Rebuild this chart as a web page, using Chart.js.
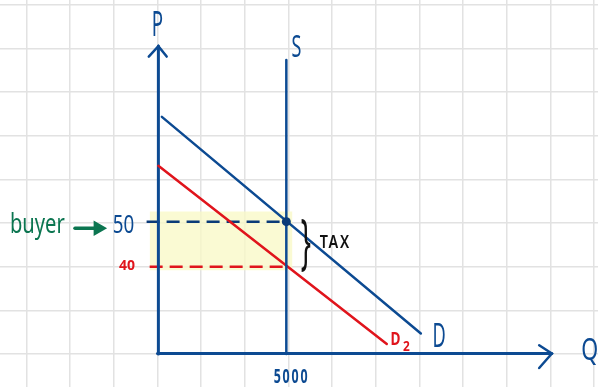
<!DOCTYPE html>
<html>
<head>
<meta charset="utf-8">
<script src="https://cdn.jsdelivr.net/npm/chart.js@4/dist/chart.umd.min.js"></script>
<style>
  html, body { margin: 0; padding: 0; background: #ffffff; overflow: hidden; }
  #wrap { width: 598px; height: 387px; }
</style>
</head>
<body>
<div id="wrap"><canvas id="taxChart" width="598" height="387"></canvas></div>
<script>
// values in grid cells (one square of the paper = 1)
const demandQ = [0.1, 6.03];
const demandP = [5.43, 0.47];
const demand2Q = [0.02, 5.25];
const demand2P = [4.31, 0.23];
const supplyQ = [2.95, 2.95];
const supplyP = [0, 6.73];
const priceLevels = [3.03, 2.0];
const priceLabels = ["50", "40"];
const quantityLevel = 2.95;
const quantityLabel = "5000";
const taxBand = [1.92, 3.26];

const blue = "#0c4a92";
const darkBlue = "#0a3b78";
const red = "#e0141c";
const green = "#0b7550";
const gridLine = "#e2e2e2";
const highlight = "rgba(249, 249, 200, 0.8)";

const toPts = (xs, ys) => xs.map((x, i) => ({ x, y: ys[i] }));

// hand-written notes, anchored in grid units
const notes = [
  { text: "P", x: 0, y: 7.28, color: blue, size: 34, sx: 0.55 },
  { text: "S", x: 3.18, y: 6.8, color: blue, size: 30, sx: 0.6 },
  { text: "D", x: 6.45, y: 0.15, color: blue, size: 33, sx: 0.55 },
  { text: "Q", x: 9.9, y: -0.13, color: blue, size: 31, sx: 0.7 },
  { text: "D", x: 5.45, y: 0.21, color: red, size: 17, sx: 0.8, weight: "bold" },
  { text: "2", x: 5.7, y: 0.06, color: red, size: 14, sx: 0.85, weight: "bold" },
  { text: priceLabels[0], x: -0.78, y: 2.77, color: blue, size: 25, sx: 0.75 },
  { text: priceLabels[1], x: -0.7, y: 1.93, color: red, size: 14, sx: 1, weight: "bold" },
  { text: "buyer", x: -3.38, y: 2.77, color: green, size: 28, sx: 0.72, align: "left" },
  { text: quantityLabel, x: 3.07, y: -0.67, color: blue, size: 20, sx: 0.62, weight: "bold", spacing: "3px" },
  { text: "TAX", x: 4.07, y: 2.42, color: "#111111", size: 18, sx: 0.8, weight: "600", spacing: "2px" },
  { text: "}", x: 3.4, y: 2.1, color: "#111111", size: 60, sx: 0.45 }
];

const notePlugin = {
  id: "notes",
  afterDatasetsDraw(chart) {
    const { ctx, scales } = chart;
    notes.forEach(n => {
      ctx.save();
      ctx.translate(scales.x.getPixelForValue(n.x), scales.y.getPixelForValue(n.y));
      ctx.scale(n.sx, 1);
      ctx.font = `${n.weight || "normal"} ${n.size}px "Noto Sans", sans-serif`;
      ctx.letterSpacing = n.spacing || "0px";
      ctx.fillStyle = n.color;
      ctx.textAlign = n.align || "center";
      ctx.textBaseline = "alphabetic";
      ctx.fillText(n.text, 0, 0);
      ctx.restore();
    });
  }
};

const line = (data, color, width, extra) => Object.assign({
  data, borderColor: color, borderWidth: width, showLine: true,
  pointRadius: 0, fill: false, tension: 0, borderCapStyle: "round"
}, extra || {});

new Chart(document.getElementById("taxChart"), {
  type: "scatter",
  data: {
    datasets: [
      line([{ x: quantityLevel, y: priceLevels[0] }], darkBlue, 0, { pointRadius: 4.5, pointBackgroundColor: darkBlue, showLine: false, order: 0 }),
      line(toPts(demandQ, demandP), blue, 2.5, { order: 1 }),
      line(toPts(demand2Q, demand2P), red, 2.5, { order: 2 }),
      line(toPts(supplyQ, supplyP), blue, 2.5, { order: 1 }),
      // axes with arrow heads
      line([{ x: 0.02, y: 0 }, { x: 0.02, y: 7.05 }], blue, 3, { order: 3 }),
      line([{ x: -0.2, y: 6.81 }, { x: 0.02, y: 7.05 }, { x: 0.21, y: 6.81 }], blue, 2.5, { order: 3 }),
      line([{ x: 0, y: 0.01 }, { x: 9.03, y: 0.01 }], blue, 3, { order: 3 }),
      line([{ x: 8.74, y: 0.2 }, { x: 9.03, y: 0.01 }, { x: 8.74, y: -0.32 }], blue, 2.5, { order: 3 }),
      // price dashes
      line([{ x: -0.25, y: priceLevels[0] }, { x: quantityLevel, y: priceLevels[0] }], darkBlue, 2.5, { borderDash: [13, 7], borderCapStyle: "butt", order: 4 }),
      line([{ x: -0.18, y: priceLevels[1] }, { x: quantityLevel, y: priceLevels[1] }], red, 2.5, { borderDash: [13, 7], borderCapStyle: "butt", order: 4 }),
      // buyer arrow
      line([{ x: -1.89, y: 2.88 }, { x: -1.36, y: 2.88 }], green, 3.5, {
        pointRadius: [0, 5.5], pointStyle: "triangle", rotation: 90,
        pointBackgroundColor: green, pointBorderColor: green, order: 4
      }),
      // tax highlight
      line([{ x: -0.18, y: taxBand[1] }, { x: 3.09, y: taxBand[1] }], "rgba(0,0,0,0)", 0, { fill: "+1", backgroundColor: highlight, order: 9 }),
      line([{ x: -0.18, y: taxBand[0] }, { x: 3.09, y: taxBand[0] }], "rgba(0,0,0,0)", 0, { order: 10 })
    ]
  },
  options: {
    responsive: false,
    animation: false,
    layout: { padding: 0, autoPadding: false },
    plugins: { legend: { display: false }, tooltip: { enabled: false } },
    scales: {
      x: {
        type: "linear", min: -3.607, max: 10.087,
        ticks: { display: false, stepSize: 1, includeBounds: false },
        grid: { color: gridLine, lineWidth: 1.5, drawTicks: false },
        border: { display: false }
      },
      y: {
        type: "linear", min: -0.756, max: 8.106,
        ticks: { display: false, stepSize: 1, includeBounds: false },
        grid: { color: gridLine, lineWidth: 1.5, drawTicks: false },
        border: { display: false }
      }
    }
  },
  plugins: [notePlugin]
});
</script>
</body>
</html>
